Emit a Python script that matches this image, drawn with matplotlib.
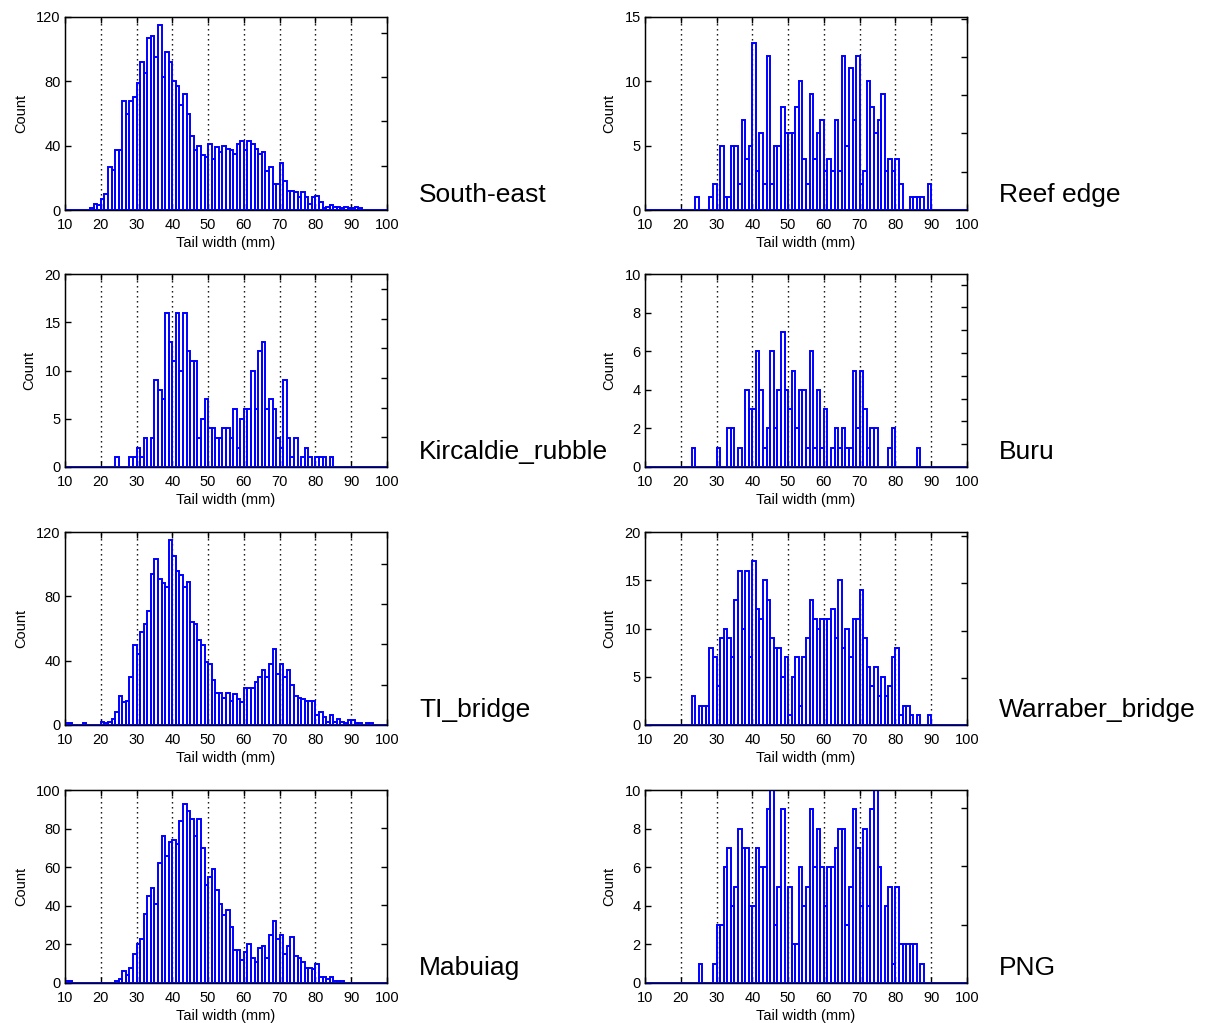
import matplotlib
matplotlib.use('Agg')
import matplotlib.pyplot as plt
import numpy as np

plt.rcParams['font.family'] = ['Liberation Sans', 'DejaVu Sans']

# ---------------- data (counts per 1 mm bin, listed from a start bin) ----------------
bin_lo, bin_hi = 10, 100
x_ticks = [10, 20, 30, 40, 50, 60, 70, 80, 90, 100]

south_east_start = 17
south_east = [1, 4, 3, 7, 10, 27, 25, 37, 37, 68, 60, 68, 70, 79, 92, 85, 107, 108, 95, 115,
              83, 98, 92, 80, 77, 65, 72, 60, 46, 37, 40, 34, 33, 41, 32, 39, 36, 40, 38, 37,
              35, 41, 43, 37, 43, 41, 38, 35, 36, 24, 27, 16, 16, 29, 18, 12, 12, 11, 8, 11,
              8, 4, 8, 9, 5, 1, 2, 3, 2, 2, 1, 2, 1, 1, 2, 1]

kircaldie_start = 24
kircaldie = [1, 0, 0, 0, 1, 1, 2, 1, 3, 0, 3, 9, 8, 7, 16, 13, 11, 16, 10, 16,
             12, 11, 11, 3, 5, 7, 4, 4, 3, 3, 4, 4, 3, 6, 2, 5, 6, 6, 10, 6,
             12, 13, 6, 7, 6, 3, 2, 9, 3, 1, 3, 0, 1, 2, 1, 0, 1, 1, 1, 0, 1]

ti_bridge_start = 10
ti_bridge = [1, 1, 0, 0, 0, 1, 0, 0, 0, 0, 2, 1, 2, 4, 8, 18, 14, 15, 30, 50,
             44, 58, 63, 71, 94, 103, 91, 88, 86, 115, 105, 96, 93, 86, 89, 64, 63, 53, 50, 39,
             38, 28, 20, 20, 17, 20, 15, 19, 16, 14, 23, 23, 23, 27, 30, 34, 30, 38, 47, 32,
             38, 30, 34, 25, 18, 17, 16, 15, 15, 15, 6, 8, 5, 2, 6, 2, 4, 2, 1, 3,
             3, 1, 1, 0, 1, 1]

mabuiag_start = 10
mabuiag = [1, 1, 0, 0, 0, 0, 0, 0, 0, 0, 0, 0, 0, 0, 1, 2, 6, 4, 8, 15,
           20, 23, 36, 45, 49, 41, 62, 76, 66, 73, 74, 72, 84, 93, 89, 85, 76, 85, 70, 51,
           55, 59, 48, 41, 35, 38, 29, 17, 17, 12, 16, 20, 13, 11, 18, 19, 13, 25, 32, 23,
           25, 15, 19, 24, 14, 13, 11, 8, 8, 7, 10, 3, 3, 2, 3, 1, 1, 1]

reef_edge_start = 24
reef_edge = [1, 0, 0, 0, 1, 2, 0, 5, 1, 1, 5, 5, 2, 7, 4, 5, 13, 3, 6, 2,
             12, 2, 5, 5, 8, 6, 6, 6, 8, 10, 4, 2, 9, 4, 6, 7, 3, 4, 3, 7,
             3, 12, 5, 11, 7, 12, 2, 3, 10, 8, 6, 7, 9, 3, 4, 3, 4, 2, 0, 0,
             1, 1, 1, 1, 0, 2]

buru_start = 23
buru = [1, 0, 0, 0, 0, 0, 0, 1, 0, 0, 2, 2, 0, 1, 0, 4, 3, 3, 6, 4,
        1, 2, 6, 2, 4, 7, 4, 3, 5, 2, 4, 4, 1, 6, 1, 4, 1, 3, 0, 1,
        2, 1, 2, 1, 1, 5, 2, 5, 3, 1, 2, 2, 0, 0, 0, 1, 2, 0, 0, 0,
        0, 0, 0, 1]

warraber_start = 23
warraber = [3, 0, 2, 2, 2, 8, 7, 4, 9, 10, 9, 7, 13, 16, 10, 16, 7, 17, 12, 11,
            15, 13, 9, 8, 8, 5, 7, 1, 5, 7, 2, 7, 9, 13, 11, 10, 11, 11, 11, 12,
            9, 15, 8, 10, 7, 11, 11, 14, 9, 6, 4, 6, 3, 5, 3, 4, 7, 8, 1, 2,
            2, 1, 0, 1, 0, 0, 1]

png_start = 25
png = [1, 0, 0, 0, 1, 3, 3, 6, 7, 4, 5, 8, 7, 7, 4, 4, 7, 6, 6, 9,
       10, 3, 5, 9, 0, 5, 2, 2, 6, 4, 5, 9, 6, 8, 6, 4, 6, 6, 7, 8,
       8, 3, 5, 9, 7, 4, 8, 4, 9, 10, 6, 0, 4, 5, 1, 5, 2, 2, 2, 2,
       2, 0, 1]

site_names = ['South-east', 'Reef edge', 'Kircaldie_rubble', 'Buru',
              'TI_bridge', 'Warraber_bridge', 'Mabuiag', 'PNG']
site_starts = [south_east_start, reef_edge_start, kircaldie_start, buru_start,
               ti_bridge_start, warraber_start, mabuiag_start, png_start]
site_counts = [south_east, reef_edge, kircaldie, buru,
               ti_bridge, warraber, mabuiag, png]
y_max = [120, 15, 20, 10, 120, 20, 100, 10]
y_step = [40, 5, 5, 2, 40, 5, 20, 2]
# unlabeled right-hand axis (overlaid axes): top limit and number of ticks
right_max = [4.36, 5.04, 6.5, 8.47, 4.79, 4.09, 4.975, 3.31]
right_nticks = [4, 5, 6, 8, 4, 4, 4, 3]

# ---------------- figure ----------------
W, H = 1207, 1023
fig = plt.figure(figsize=(W / 100, H / 100), dpi=100)
fig.patch.set_facecolor('white')

col_left = [65, 645]
ax_w = 322
row_bottom = [210, 467, 725, 983]
ax_h = 193

edges = np.arange(bin_lo, bin_hi)

for i in range(8):
    r, c = divmod(i, 2)
    left = col_left[c] / W
    bottom = 1 - row_bottom[r] / H
    ax = fig.add_axes([left, bottom, ax_w / W, ax_h / H])

    counts = np.zeros(bin_hi - bin_lo)
    s = site_starts[i] - bin_lo
    vals = site_counts[i]
    counts[s:s + len(vals)] = vals

    ax.bar(edges, counts, width=1, align='edge', facecolor='none',
           edgecolor='#0000ff', linewidth=1.4, zorder=3)

    for gx in x_ticks[1:-1]:
        ax.axvline(gx, color='black', linewidth=1.0, linestyle=(0, (1, 2.6)), zorder=1)

    ax.set_xlim(bin_lo, bin_hi)
    ax.set_ylim(0, y_max[i])
    ax.set_xticks(x_ticks)
    ax.set_yticks(np.arange(0, y_max[i] + 0.1, y_step[i]))
    ax.tick_params(direction='in', top=True, right=False, length=4, width=1,
                   labelsize=10.5)
    ax.tick_params(axis='x', pad=6)
    ax.tick_params(axis='y', pad=3)
    for sp in ax.spines.values():
        sp.set_linewidth(1.0)
        sp.set_color('black')
    ax.set_xlabel('Tail width (mm)', fontsize=10.5, labelpad=2.5)
    ax.set_ylabel('Count', fontsize=10.5, labelpad=6)

    ax2 = ax.twinx()
    ax2.set_ylim(0, right_max[i])
    ax2.set_yticks(np.arange(1, right_nticks[i] + 1))
    ax2.tick_params(direction='in', length=4, width=1, labelright=False)

    ax.text(1.099, 0.078, site_names[i], transform=ax.transAxes,
            fontsize=19, ha='left', va='center')

fig.savefig('out.png', dpi=100, facecolor='white')
